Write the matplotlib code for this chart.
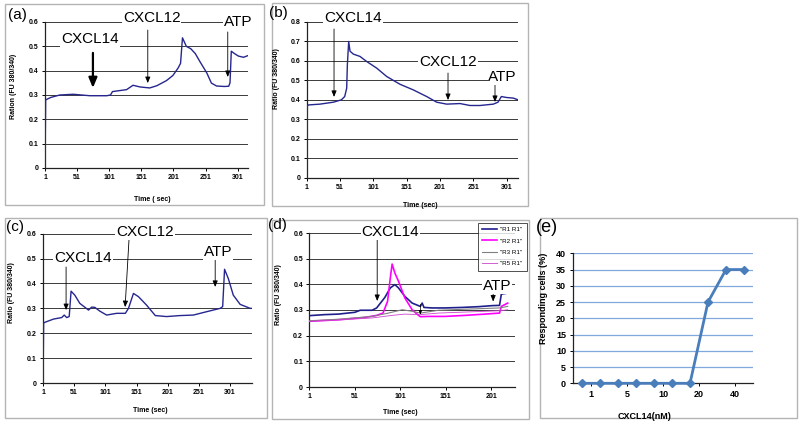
import matplotlib
matplotlib.use('Agg')
import matplotlib.pyplot as plt
from matplotlib.patches import Rectangle

plt.rcParams['font.family'] = ['Liberation Sans', 'DejaVu Sans']

# --- DATA ---
# (a) single trace
a_t = [1, 2, 10, 24, 45, 71, 97, 103, 106, 128, 138, 149, 164, 175, 190, 200, 208,
       212, 215, 221, 228, 235, 242, 253, 260, 268, 280, 287, 289, 291, 295, 302, 310, 317]
a_v = [0.0, 0.28, 0.29, 0.30, 0.303, 0.297, 0.297, 0.30, 0.314, 0.322, 0.34, 0.333, 0.329,
       0.338, 0.359, 0.38, 0.41, 0.43, 0.535, 0.50, 0.49, 0.47, 0.438, 0.39, 0.349, 0.337,
       0.335, 0.336, 0.35, 0.48, 0.472, 0.46, 0.455, 0.462]

# (b) single trace
b_t = [1, 2, 4, 21, 41, 53, 58, 61, 62, 64, 66, 71, 81, 91, 106, 121, 141, 161, 181,
       196, 211, 231, 246, 261, 281, 288, 293, 301, 311, 318]
b_v = [0.0, 0.37, 0.374, 0.378, 0.388, 0.40, 0.417, 0.46, 0.58, 0.70, 0.65, 0.635, 0.623,
       0.597, 0.563, 0.52, 0.48, 0.451, 0.417, 0.388, 0.378, 0.381, 0.371, 0.371, 0.378,
       0.388, 0.417, 0.412, 0.409, 0.40]

# (c) single trace
c_t = [1, 2, 3, 18, 31, 35, 39, 43, 46, 52, 60, 74, 79, 84, 92, 103, 119, 133, 138, 146,
       154, 167, 181, 199, 221, 242, 264, 285, 289, 292, 298, 306, 317, 333, 336]
c_v = [0.0, 0.24, 0.243, 0.257, 0.263, 0.273, 0.263, 0.267, 0.369, 0.353, 0.32, 0.293,
       0.305, 0.304, 0.289, 0.273, 0.28, 0.28, 0.30, 0.36, 0.347, 0.313, 0.271, 0.267,
       0.271, 0.273, 0.287, 0.30, 0.307, 0.457, 0.42, 0.353, 0.316, 0.30, 0.30]

# (d) four cells
d_t1 = [1, 18, 33, 51, 57, 70, 75, 84, 90, 95, 99, 106, 114, 123, 125, 127, 136, 150,
        169, 187, 202, 210, 212, 219]
d_r1 = [0.278, 0.282, 0.284, 0.291, 0.299, 0.299, 0.308, 0.349, 0.386, 0.399, 0.386,
        0.353, 0.327, 0.314, 0.327, 0.31, 0.308, 0.308, 0.31, 0.313, 0.317, 0.318, 0.362,
        0.366]
d_t2 = [1, 33, 62, 75, 82, 87, 90, 92, 95, 99, 106, 114, 121, 123, 132, 150, 172, 194,
        210, 212, 219]
d_r2 = [0.256, 0.262, 0.271, 0.279, 0.288, 0.334, 0.425, 0.479, 0.444, 0.412, 0.347,
        0.301, 0.279, 0.274, 0.275, 0.275, 0.279, 0.284, 0.288, 0.314, 0.327]
d_t3 = [1, 33, 70, 88, 103, 114, 123, 143, 172, 210, 219]
d_r3 = [0.258, 0.264, 0.275, 0.288, 0.301, 0.295, 0.288, 0.299, 0.303, 0.308, 0.314]
d_t5 = [1, 33, 70, 92, 106, 123, 143, 172, 210, 219]
d_r5 = [0.256, 0.261, 0.269, 0.279, 0.284, 0.282, 0.288, 0.292, 0.297, 0.301]
d_labels = ['"R1 R1"', '"R2 R1"', '"R3 R1"', '"R5 R1"']

# (e) dose response
e_resp = [0, 0, 0, 0, 0, 0, 0, 25, 35, 35]
e_ticklabels = ['1', '5', '10', '20', '40']

W, H = 800, 426
fig = plt.figure(figsize=(8, 4.26), dpi=100)

# light grey panel frames (pixel boxes)
for x0, y0, x1, y1 in [(5, 4, 264, 205), (272, 3, 528, 206), (5, 218, 267, 418),
                       (272, 220, 529, 419), (540, 218, 797, 418)]:
    fig.add_artist(Rectangle((x0 / W, 1 - y1 / H), (x1 - x0) / W, (y1 - y0) / H,
                             transform=fig.transFigure, fill=False,
                             ec='#b4b4b4', lw=1, zorder=-1))


def px_axes(l, r, t, b):
    return fig.add_axes([l / W, 1 - b / H, (r - l) / W, (b - t) / H])


TRACE = '#26268f'


def style_trace(ax, xmax, ymax, xticks, xlabel, ylabel, xlab_pos, ylab_pos):
    ax.set_xlim(1, xmax)
    ax.set_ylim(0, ymax)
    yt = [round(i * 0.1, 1) for i in range(int(round(ymax * 10)) + 1)]
    ax.set_yticks(yt)
    ax.set_yticklabels(['0'] + [f'{v:.1f}' for v in yt[1:]])
    ax.set_xticks(xticks)
    ax.set_xticklabels([str(v) for v in xticks])
    for v in yt[1:]:
        ax.axhline(v, color='#3a3a3a', lw=0.7, zorder=1)
    for s in ['top', 'right']:
        ax.spines[s].set_visible(False)
    for s in ['left', 'bottom']:
        ax.spines[s].set_color('#222222')
        ax.spines[s].set_linewidth(0.9)
    ax.tick_params(labelsize=5, length=2, width=0.7, pad=2.5)
    for lab in ax.get_xticklabels() + ax.get_yticklabels():
        lab.set_fontweight('bold')
    ax.set_xlabel(xlabel, fontsize=5, fontweight='bold')
    ax.set_ylabel(ylabel, fontsize=5, fontweight='bold')
    ax.xaxis.set_label_coords(*xlab_pos)
    ax.yaxis.set_label_coords(*ylab_pos)


def note(ax, text, x, y, size=11):
    ax.text(x, y, text, fontsize=size, ha='center', va='center', zorder=5, clip_on=False,
            bbox=dict(fc='white', ec='none', pad=0.5))


def arrow(ax, x0, y0, x1, y1, lw=0.6, head=3):
    ax.annotate('', xy=(x1, y1), xytext=(x0, y0), annotation_clip=False, zorder=4,
                arrowprops=dict(arrowstyle=f'-|>,head_length={head * 0.12},head_width={head * 0.05}',
                                lw=lw, color='black', shrinkA=0, shrinkB=0))


# ---- (a) ----
ax = px_axes(45, 248, 22, 168)
ax.plot(a_t, a_v, color=TRACE, lw=1.0, zorder=3)
style_trace(ax, 317, 0.6, [1, 51, 101, 151, 201, 251, 301], 'Time ( sec)',
            'Ration (FU 380/340)', (0.527, -0.195), (-0.14, 0.557))
note(ax, 'CXCL14', 71, 0.53)
arrow(ax, 75.6, 0.473, 75.6, 0.329, lw=1.6, head=5)
note(ax, 'CXCL12', 167, 0.617)
arrow(ax, 161, 0.567, 161, 0.349)
note(ax, 'ATP', 301, 0.60)
arrow(ax, 285.5, 0.559, 285.5, 0.374)
fig.text(17 / W, 1 - 15 / H, '(a)', fontsize=11, ha='center', va='center')

# ---- (b) ----
ax = px_axes(306.7, 518, 22, 177.7)
ax.plot(b_t, b_v, color=TRACE, lw=1.0, zorder=3)
style_trace(ax, 318, 0.8, [1, 51, 101, 151, 201, 251, 301], 'Time (sec)',
            'Ratio (FU 380/340)', (0.536, -0.156), (-0.126, 0.634))
note(ax, 'CXCL14', 70.5, 0.821)
arrow(ax, 42, 0.764, 42, 0.415)
note(ax, 'CXCL12', 213, 0.595)
arrow(ax, 213, 0.538, 213, 0.399)
note(ax, 'ATP', 295, 0.517)
arrow(ax, 283.5, 0.481, 283.5, 0.389)
fig.text(278 / W, 1 - 13 / H, '(b)', fontsize=11, ha='center', va='center')

# ---- (c) ----
ax = px_axes(43, 252, 233.7, 383)
ax.plot(c_t, c_v, color=TRACE, lw=1.0, zorder=3)
style_trace(ax, 336, 0.6, [1, 51, 101, 151, 201, 251, 301], 'Time (sec)',
            'Ratio (FU 380/340)', (0.512, -0.159), (-0.134, 0.606))
note(ax, 'CXCL14', 65, 0.502)
arrow(ax, 38, 0.466, 38, 0.293)
note(ax, 'CXCL12', 164.6, 0.607)
arrow(ax, 139, 0.583, 132.6, 0.305)
note(ax, 'ATP', 282, 0.527)
arrow(ax, 277, 0.494, 277, 0.386)
fig.text(15 / W, 1 - 227 / H, '(c)', fontsize=11, ha='center', va='center')

# ---- (d) ----
ax = px_axes(309.3, 515, 233, 387)
ax.plot(d_t1, d_r1, color='#1f1f8c', lw=1.2, zorder=3, label=d_labels[0])
ax.plot(d_t2, d_r2, color='#ff00ff', lw=1.2, zorder=3, label=d_labels[1])
ax.plot(d_t3, d_r3, color='#808080', lw=0.8, zorder=3, label=d_labels[2])
ax.plot(d_t5, d_r5, color='#cc44cc', lw=0.6, zorder=3, label=d_labels[3])
style_trace(ax, 227, 0.6, [1, 51, 101, 151, 201], 'Time (sec)',
            'Ratio (FU 380/340)', (0.441, -0.143), (-0.134, 0.597))
note(ax, 'CXCL14', 90, 0.604)
arrow(ax, 75.6, 0.584, 75.6, 0.335)
note(ax, 'ATP', 207.7, 0.393)
arrow(ax, 203, 0.368, 203, 0.333)
arrow(ax, 123, 0.322, 123, 0.282, lw=0.5, head=2)
leg = ax.legend(loc='upper left', bbox_to_anchor=(0.82, 1.068), fontsize=4.5,
                frameon=True, fancybox=False, edgecolor='black', handlelength=2.3,
                labelspacing=0.95, borderpad=0.7, handletextpad=0.6, borderaxespad=0)
leg.get_frame().set_linewidth(0.6)
leg.set_zorder(6)
fig.text(277 / W, 1 - 225 / H, '(d)', fontsize=11, ha='center', va='center')

# ---- (e) ----
ax = px_axes(573, 753, 253.3, 383.3)
xs = list(range(len(e_resp)))
ax.plot(xs, e_resp, color='#4a7ebb', lw=2, marker='D', ms=4, zorder=3, clip_on=False)
ax.set_xlim(-0.5, len(e_resp) - 0.5)
ax.set_ylim(0, 40)
ax.set_yticks(range(0, 41, 5))
ax.set_xticks([0.5, 2.5, 4.5, 6.5, 8.5])
ax.set_xticklabels(e_ticklabels)
for v in range(5, 41, 5):
    ax.axhline(v, color='#7fa8dc', lw=0.9, zorder=1)
for s in ['top', 'right']:
    ax.spines[s].set_visible(False)
for s in ['left', 'bottom']:
    ax.spines[s].set_color('#222222')
    ax.spines[s].set_linewidth(0.9)
ax.tick_params(labelsize=6.5, length=2, width=0.7, pad=3)
for lab in ax.get_xticklabels() + ax.get_yticklabels():
    lab.set_fontweight('bold')
ax.set_xlabel('CXCL14(nM)', fontsize=6.5, fontweight='bold')
ax.set_ylabel('Responding cells (%)', fontsize=6.5, fontweight='bold')
ax.xaxis.set_label_coords(0.4, -0.22)
ax.yaxis.set_label_coords(-0.139, 0.65)
fig.text(547 / W, 1 - 227 / H, '(e)', fontsize=13, ha='center', va='center')

fig.savefig('out.png', dpi=100)
